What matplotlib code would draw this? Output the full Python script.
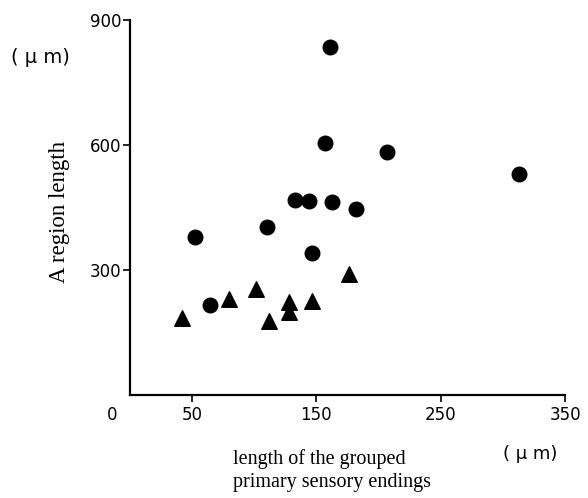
import matplotlib.pyplot as plt

# data (um)
circle_x = [52.7, 64, 110, 133, 143.7, 146.4, 157, 161, 162.5, 181.8, 207, 313]
circle_y = [379, 216, 402, 468, 466, 341, 605, 834, 464, 446, 584, 530]
tri_x = [42, 80, 101.4, 111.6, 127.7, 127.7, 146.4, 176]
tri_y = [184, 230, 254, 178, 224, 200, 226, 290]

x_ticks = [50, 150, 250, 350]
y_ticks = [300, 600, 900]

fig = plt.figure(figsize=(5.88, 4.98), dpi=100)
ax = fig.add_axes([0.221, 0.207, 0.74, 0.753])

ax.scatter(circle_x, circle_y, marker='o', s=110, color='black', zorder=3)
ax.scatter(tri_x, tri_y, marker='^', s=125, color='black', zorder=3)

ax.set_xlim(0, 350)
ax.set_ylim(0, 900)
ax.set_xticks(x_ticks)
ax.set_yticks(y_ticks)
ax.set_xticklabels([str(v) for v in x_ticks], fontsize=12, family='DejaVu Sans')
ax.set_yticklabels([str(v) for v in y_ticks], fontsize=12, family='DejaVu Sans')
ax.tick_params(direction='out', length=5, width=1.2)
ax.tick_params(axis='x', pad=3)
ax.tick_params(axis='y', pad=1)

for s in ['top', 'right']:
    ax.spines[s].set_visible(False)
for s in ['left', 'bottom']:
    ax.spines[s].set_linewidth(1.6)

# "0" sits left of the corner, no tick
ax.annotate('0', xy=(0, 0), xycoords='data', xytext=(-12.6, -8), textcoords='offset points',
            ha='center', va='top', fontsize=12, family='DejaVu Sans')

fig.text(0.102, 0.574, 'A region length', rotation=90, fontsize=16.5,
         family='Liberation Serif', ha='center', va='center')

fig.text(0.396, 0.0985, 'length of the grouped\nprimary sensory endings',
         fontsize=14.5, family='Liberation Serif', ha='left', va='top', linespacing=1.3)
fig.text(0.9015, 0.088, '( μ m)', fontsize=13, family='DejaVu Sans', ha='center', va='center')
fig.text(0.068, 0.885, '( μ m)', fontsize=14, family='DejaVu Sans', ha='center', va='center')

fig.savefig('out.png', dpi=100)
